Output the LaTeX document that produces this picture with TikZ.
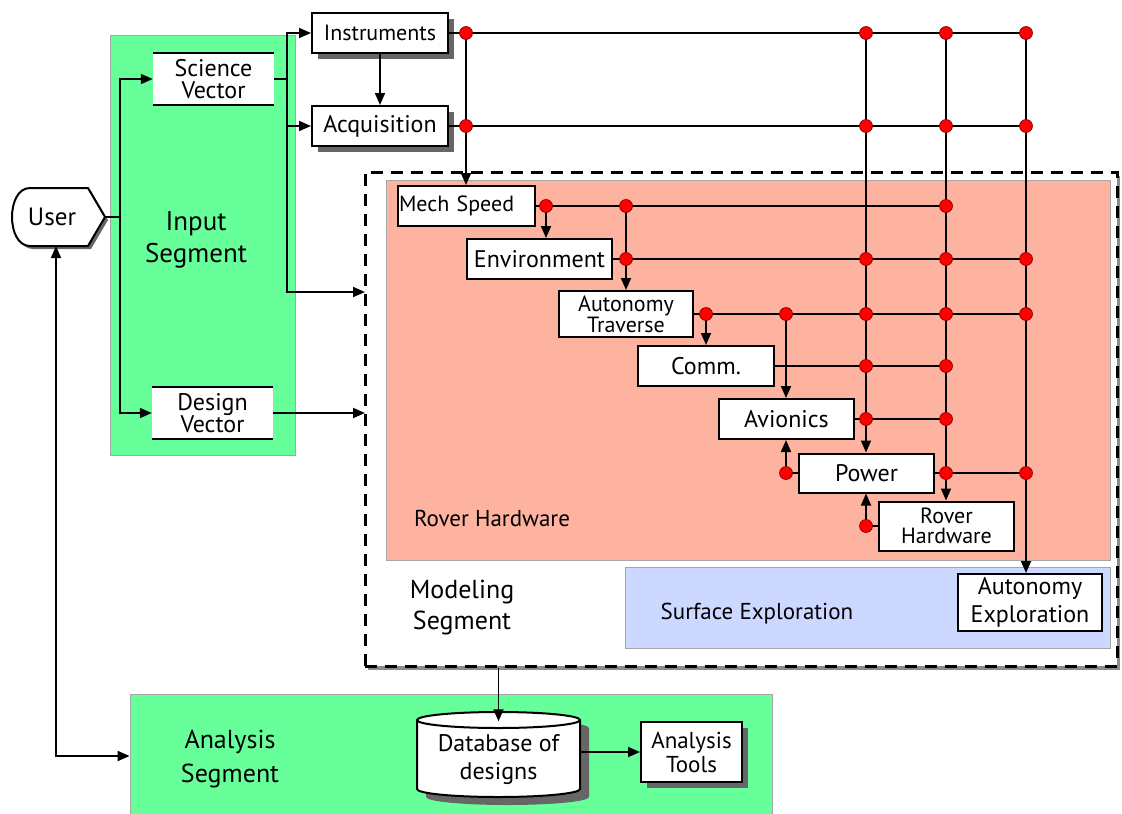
\documentclass[tikz,border=0pt]{standalone}
\usepackage{fontspec}
\setmainfont{PT Sans}
\usetikzlibrary{arrows.meta,shadows}
\definecolor{ingreen}{RGB}{102,255,153}
\definecolor{roverred}{RGB}{253,179,159}
\definecolor{surfblue}{RGB}{204,216,255}
\begin{document}
\begin{tikzpicture}[x=1pt, y=-1pt, font=\fontsize{24}{22}\selectfont, >={Triangle[length=12pt,width=10pt]},
	box/.style={draw, fill=white, line width=2pt, inner sep=0pt, align=center},
	shbox/.style={box, drop shadow={shadow xshift=6pt, shadow yshift=-6pt, fill=black!60, opacity=1}},
	dot/.style={circle, fill=red, draw=red!45!black, line width=0.6pt, inner sep=0pt, minimum size=13pt},
	wire/.style={line width=1.8pt},
	region/.style={draw=black!35, line width=0.8pt, inner sep=0pt}]
	\useasboundingbox (0,0) rectangle (1122,814);
	% segments
	\node[region, fill=ingreen, minimum width=185pt, minimum height=420pt] (inreg) at (202.5,245) {};
	\node[region, fill=ingreen, minimum width=642pt, minimum height=124pt] (anreg) at (451,756) {};
	\node[draw, fill=white, line width=3pt, dash pattern=on 12pt off 8pt, minimum width=752pt, minimum height=494pt, inner sep=0pt,
		drop shadow={shadow xshift=3pt, shadow yshift=-4pt, fill=black!45, opacity=1}] (model) at (741,419) {};
	\node[region, fill=roverred, minimum width=724pt, minimum height=380pt] (rovreg) at (748,370) {};
	\node[region, fill=surfblue, minimum width=485pt, minimum height=81pt] (surfreg) at (867.5,607.5) {};
	\node[font=\fontsize{27}{32}\selectfont, align=center] (inlab) at (196,240) {Input\\Segment};
	\node[font=\fontsize{26}{31}\selectfont, align=center] (modlab) at (462,608) {Modeling\\Segment};
	\node[font=\fontsize{26}{34}\selectfont, align=center] (anlab) at (230,759) {Analysis\\Segment};
	\node[font=\fontsize{23}{24}\selectfont] (rovlab) at (492,518) {Rover Hardware};
	\node[font=\fontsize{23}{24}\selectfont] (surflab) at (757,614) {Surface Exploration};
	% user
	\fill[black!60] (33,191) -- (91,191) -- (108,220) -- (91,249) -- (33,249) .. controls (9,249) and (9,191) .. (33,191) -- cycle;
	\draw[line width=2pt, fill=white] (30,188) -- (88,188) -- (105,217) -- (88,246) -- (30,246) .. controls (6,246) and (6,188) .. (30,188) -- cycle;
	\node[font=\fontsize{25}{25}\selectfont] (user) at (52,217) {User};
	\coordinate (userR) at (105,217);
	\coordinate (userB) at (56,246);
	% input vectors
	\node[fill=white, inner sep=0pt, minimum width=121pt, minimum height=52pt, align=center] (sci) at (213.5,79) {Science\\Vector};
	\node[fill=white, inner sep=0pt, minimum width=121pt, minimum height=52pt, align=center] (des) at (212.5,413) {Design\\Vector};
	\draw[line width=2pt] (sci.north west)--(sci.north east) (sci.south west)--(sci.south east)
		(des.north west)--(des.north east) (des.south west)--(des.south east);
	\node[shbox, minimum width=136pt, minimum height=40pt, font=\fontsize{22}{22}\selectfont] (instr) at (380,33) {Instruments};
	\node[shbox, minimum width=136pt, minimum height=40pt] (acq) at (380,126) {Acquisition};
	% rover hardware chain
	\node[box, minimum width=137pt, minimum height=40pt, text width=135pt, align=left, font=\fontsize{22}{22}\selectfont] (mech) at (466.5,206) {Mech Speed};
	\node[box, minimum width=145pt, minimum height=40pt] (env) at (539.5,259) {Environment};
	\node[box, minimum width=134pt, minimum height=46pt, font=\fontsize{22}{19}\selectfont] (trav) at (626,314) {Autonomy\\Traverse};
	\node[box, minimum width=136pt, minimum height=40pt] (comm) at (706,366) {Comm.};
	\node[box, minimum width=135pt, minimum height=40pt] (avio) at (786.5,419) {Avionics};
	\node[box, minimum width=135pt, minimum height=39pt] (power) at (866.5,473) {Power};
	\node[box, minimum width=135pt, minimum height=49pt, font=\fontsize{22}{20}\selectfont] (rhw) at (946.5,526) {Rover\\Hardware};
	\node[box, minimum width=144pt, minimum height=57pt, font=\fontsize{24}{28}\selectfont] (autex) at (1030,602.5) {Autonomy\\Exploration};
	% analysis
	\fill[black!60] (426,728) -- (426,797) arc[start angle=180, end angle=360, x radius=81.5pt, y radius=8pt] -- (589,728) arc[start angle=0, end angle=180, x radius=81.5pt, y radius=8pt] -- cycle;
	\draw[line width=2pt, fill=white] (417,720) -- (417,789) arc[start angle=180, end angle=360, x radius=81.5pt, y radius=8pt] -- (580,720) arc[start angle=0, end angle=180, x radius=81.5pt, y radius=8pt] -- cycle;
	\draw[line width=2pt] (417,720) arc[start angle=180, end angle=360, x radius=81.5pt, y radius=8pt];
	\node[inner sep=0pt, minimum width=163pt, minimum height=77pt, align=center, font=\fontsize{24}{28}\selectfont] (db) at (498.5,760) {Database of\\designs};
	\node[shbox, minimum width=101pt, minimum height=60pt, font=\fontsize{23}{24}\selectfont] (tools) at (691.5,752) {Analysis\\Tools};
	% grid of junctions
	\foreach \n/\x in {1/466,2/546,3/626,4/706,5/786,6/866,7/946,8/1026}
		\foreach \m/\y in {1/33,2/126,3/206,4/259,5/314,6/366,7/419,8/473,9/526}
			\coordinate (g\m\n) at (\x,\y);
	\coordinate (ubus) at (120,217);
	\coordinate (sbus) at (287,79);
	\coordinate (modin) at (365,292);
	% input side
	\draw[wire] (userR) -- (ubus);
	\draw[wire,->] (ubus) |- (sci.west);
	\draw[wire,->] (ubus) |- (des.west);
	\draw[wire] (sci.east) -- (sbus);
	\draw[wire,->] (sbus) |- (instr.west);
	\draw[wire,->] (sbus) |- (acq.west);
	\draw[wire,->] (sbus) |- (modin);
	\draw[wire,->] (des.east) -- (des.east -| modin);
	\draw[wire,<->] (userB) |- (anreg.west);
	\draw[wire,->] (instr) -- (acq);
	% rows
	\draw[wire] (instr.east) -- (g18);
	\draw[wire] (acq.east) -- (g28);
	\draw[wire] (mech.east) -- (g37);
	\draw[wire] (env.east) -- (g48);
	\draw[wire] (trav.east) -- (g58);
	\draw[wire] (comm.east) -- (g67);
	\draw[wire] (avio.east) -- (g77);
	\draw[wire] (power.east) -- (g88);
	\draw[wire] (g85) -- (power.west);
	\draw[wire] (g96) -- (rhw.west);
	% columns
	\draw[wire,->] (g11) -- (g11 |- mech.north);
	\draw[wire,->] (g32) -- (g32 |- env.north);
	\draw[wire,->] (g33) -- (g33 |- trav.north);
	\draw[wire,->] (g54) -- (g54 |- comm.north);
	\draw[wire,->] (g55) -- (g55 |- avio.north);
	\draw[wire,->] (g16) -- (g16 |- power.north);
	\draw[wire,->] (g17) -- (g17 |- rhw.north);
	\draw[wire,->] (g18) -- (g18 |- autex.north);
	\draw[wire,->] (g85) -- (g85 |- avio.south);
	\draw[wire,->] (g96) -- (g96 |- power.south);
	\draw[wire,->] (db.north |- model.south) -- (db.north);
	\draw[wire,->] (db.east |- tools.west) -- (tools.west);
	% junction dots
	\foreach \d in {11,16,17,18,21,26,27,28,32,33,37,43,46,47,48,54,55,56,57,58,66,67,76,77,85,87,88,96}
		\node[dot] (d\d) at (g\d) {};
\end{tikzpicture}
\end{document}
